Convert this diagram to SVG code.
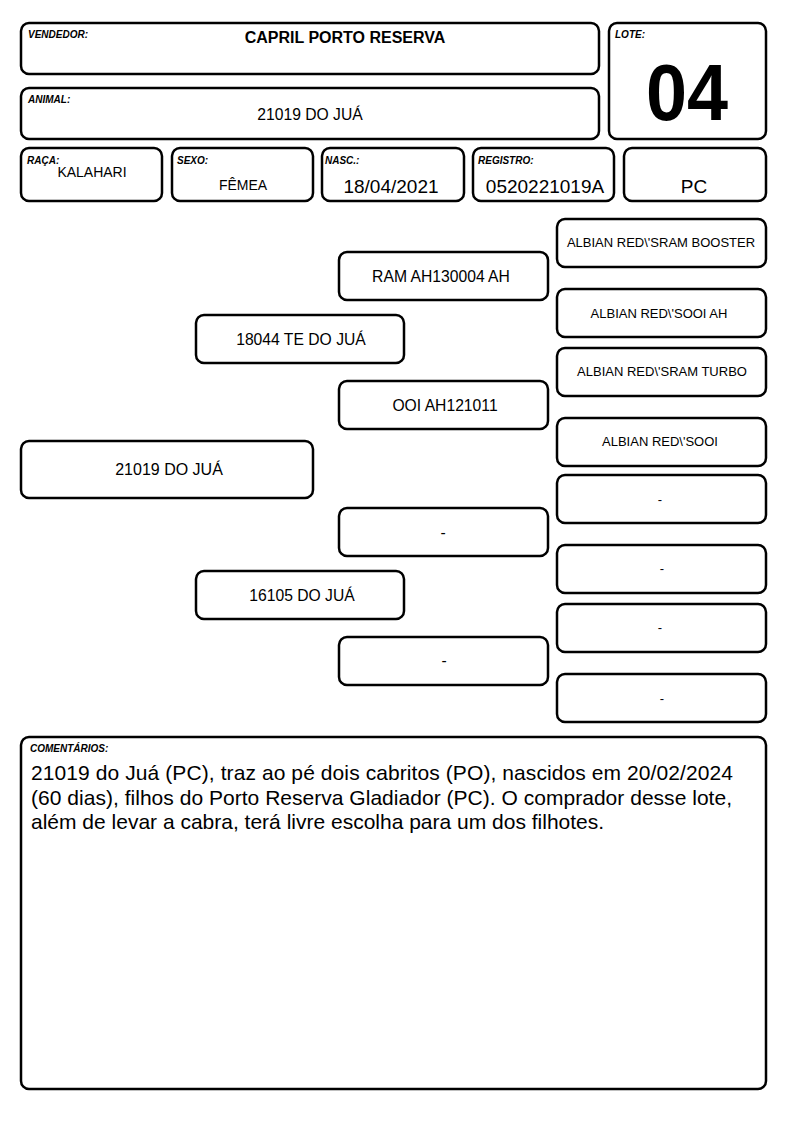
<svg xmlns="http://www.w3.org/2000/svg" width="794" height="1123" viewBox="0 0 794 1123">
<style>
rect.b{fill:#fff;stroke:#000;stroke-width:2.5}
text{font-family:"Liberation Sans",Arial,sans-serif;fill:#000}
.lbl{font-size:10px;font-weight:bold;font-style:italic}
.c{text-anchor:middle}
.g3{font-size:13px}
.g2{font-size:15.7px}
.v{font-size:15.7px}
.vb{font-size:19px}
.cm{font-size:21px}
</style>
<rect width="794" height="1123" fill="#fff"/>
<g id="vendedor">
<rect class="b" x="21" y="23" width="578" height="51" rx="8"/>
<text class="lbl" x="28" y="38" font-size="10.5">VENDEDOR:</text>
<text class="c" x="345" y="43" font-size="16" font-weight="bold">CAPRIL PORTO RESERVA</text>
</g>
<g id="animal">
<rect class="b" x="21" y="88" width="578" height="51" rx="8"/>
<text class="lbl" x="28" y="103">ANIMAL:</text>
<text class="c v" x="310" y="120">21019 DO JUÁ</text>
</g>
<g id="lote">
<rect class="b" x="609" y="23" width="157" height="116" rx="8"/>
<text class="lbl" x="615" y="38">LOTE:</text>
<text class="c" x="687" y="120" font-size="79" font-weight="bold" textLength="82" lengthAdjust="spacingAndGlyphs">04</text>
</g>
<g id="raca">
<rect class="b" x="21" y="148" width="141" height="53" rx="8"/>
<text class="lbl" x="27" y="164">RAÇA:</text>
<text class="c" x="92" y="177" font-size="14">KALAHARI</text>
</g>
<g id="sexo">
<rect class="b" x="172" y="148" width="141" height="53" rx="8"/>
<text class="lbl" x="177" y="164">SEXO:</text>
<text class="c" x="243" y="190" font-size="14">FÊMEA</text>
</g>
<g id="nasc">
<rect class="b" x="322" y="148" width="142" height="53" rx="8"/>
<text class="lbl" x="325" y="164">NASC.:</text>
<text class="c vb" x="391" y="193">18/04/2021</text>
</g>
<g id="registro">
<rect class="b" x="473" y="148" width="141" height="53" rx="8"/>
<text class="lbl" x="478" y="164">REGISTRO:</text>
<text class="c vb" x="545" y="193" font-size="19.5">0520221019A</text>
</g>
<g id="categoria">
<rect class="b" x="624" y="148" width="142" height="53" rx="8"/>
<text class="c vb" x="694" y="193">PC</text>
</g>
<g id="connectors"></g>
<g id="main">
<rect class="b" x="21" y="441" width="292" height="57" rx="8"/>
<text class="c" x="169" y="475" font-size="16">21019 DO JUÁ</text>
</g>
<g id="pai">
<rect class="b" x="196" y="315" width="208" height="48" rx="8"/>
<text class="c g2" x="301" y="345">18044 TE DO JUÁ</text>
</g>
<g id="mae">
<rect class="b" x="196" y="571" width="208" height="48" rx="8"/>
<text class="c g2" x="302" y="601">16105 DO JUÁ</text>
</g>
<g id="avo-pp">
<rect class="b" x="339" y="252" width="209" height="48" rx="8"/>
<text class="c g2" x="441" y="282" font-size="16">RAM AH130004 AH</text>
</g>
<g id="avo-pm">
<rect class="b" x="339" y="381" width="209" height="48" rx="8"/>
<text class="c g2" x="445" y="411">OOI AH121011</text>
</g>
<g id="avo-mp">
<rect class="b" x="339" y="508" width="209" height="48" rx="8"/>
<text class="c g2" x="443" y="538">-</text>
</g>
<g id="avo-mm">
<rect class="b" x="339" y="637" width="209" height="48" rx="8"/>
<text class="c g2" x="444" y="666">-</text>
</g>
<g id="bisavo-1">
<rect class="b" x="557" y="219" width="209" height="48" rx="8"/>
<text class="c g3" x="661" y="247">ALBIAN RED\'SRAM BOOSTER</text>
</g>
<g id="bisavo-2">
<rect class="b" x="557" y="289" width="209" height="48" rx="8"/>
<text class="c g3" x="659" y="318">ALBIAN RED\'SOOI AH</text>
</g>
<g id="bisavo-3">
<rect class="b" x="557" y="348" width="209" height="48" rx="8"/>
<text class="c g3" x="662" y="376">ALBIAN RED\'SRAM TURBO</text>
</g>
<g id="bisavo-4">
<rect class="b" x="557" y="418" width="209" height="48" rx="8"/>
<text class="c g3" x="660" y="446">ALBIAN RED\'SOOI</text>
</g>
<g id="bisavo-5">
<rect class="b" x="557" y="475" width="209" height="48" rx="8"/>
<text class="c g3" x="660" y="504">-</text>
</g>
<g id="bisavo-6">
<rect class="b" x="557" y="545" width="209" height="48" rx="8"/>
<text class="c g3" x="662" y="573">-</text>
</g>
<g id="bisavo-7">
<rect class="b" x="557" y="604" width="209" height="48" rx="8"/>
<text class="c g3" x="660" y="632">-</text>
</g>
<g id="bisavo-8">
<rect class="b" x="557" y="674" width="209" height="48" rx="8"/>
<text class="c g3" x="662" y="703">-</text>
</g>
<g id="comentarios">
<rect class="b" x="21" y="737" width="745" height="352" rx="8"/>
<text class="lbl" x="30" y="752" font-size="10.5">COMENTÁRIOS:</text>
<text class="cm" x="31" y="780" textLength="702">21019 do Juá (PC), traz ao pé dois cabritos (PO), nascidos em 20/02/2024</text>
<text class="cm" x="31" y="805" textLength="701">(60 dias), filhos do Porto Reserva Gladiador (PC). O comprador desse lote,</text>
<text class="cm" x="31" y="829">além de levar a cabra, terá livre escolha para um dos filhotes.</text>
</g>
</svg>
